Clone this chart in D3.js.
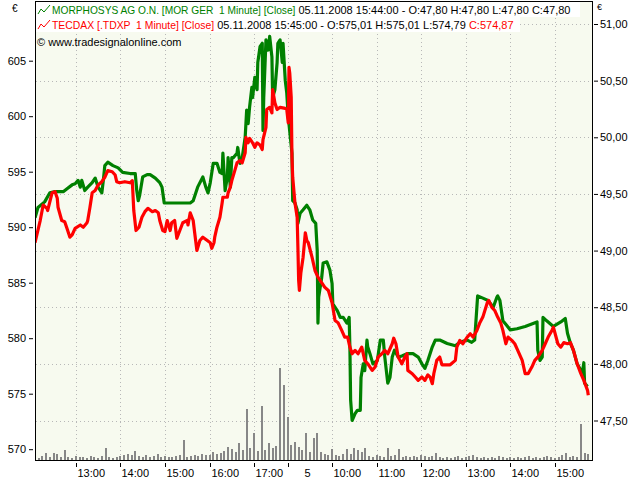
<!DOCTYPE html>
<html><head><meta charset="utf-8">
<script src="https://cdn.jsdelivr.net/npm/d3@7/dist/d3.min.js"></script>
<style>body{margin:0;background:#fff;} svg{display:block;} text{font-family:"Liberation Sans",Arial,sans-serif;white-space:pre;}</style>
</head><body><svg id="c" width="640" height="480"></svg>
<script>
// ---- DATA ----
const redT = ["4 12:05","4 12:12","4 12:16","4 12:21","4 12:22","4 12:28","4 12:32","4 12:35","4 12:36","4 12:41","4 12:45","4 12:48","4 12:52","4 12:55","4 12:59","4 13:06","4 13:10","4 13:15","4 13:16","4 13:19","4 13:22","4 13:26","4 13:30","4 13:35","4 13:39","4 13:43","4 13:49","4 13:53","4 13:55","4 13:59","4 14:06","4 14:13","4 14:16","4 14:18","4 14:21","4 14:25","4 14:29","4 14:33","4 14:37","4 14:43","4 14:47","4 14:51","4 14:53","4 14:57","4 15:00","4 15:03","4 15:07","4 15:09","4 15:13","4 15:16","4 15:20","4 15:24","4 15:30","4 15:31","4 15:34","4 15:38","4 15:40","4 15:43","4 15:47","4 15:51","4 15:57","4 16:01","4 16:03","4 16:06","4 16:07","4 16:10","4 16:14","4 16:17","4 16:18","4 16:24","4 16:25","4 16:28","4 16:30","4 16:34","4 16:37","4 16:41","4 16:44","4 16:48","4 16:49","4 16:52","4 16:54","4 16:58","4 17:01","4 17:04","4 17:08","4 17:11","4 17:12","4 17:16","4 17:17","4 17:21","4 17:24","4 17:25","4 17:28","4 17:31","4 17:35","4 17:42","4 17:44",
"5 09:01","5 09:02","5 09:03","5 09:05","5 09:06","5 09:07","5 09:10","5 09:13","5 09:14","5 09:15","5 09:16","5 09:18","5 09:21","5 09:24","5 09:26","5 09:28","5 09:33","5 09:37","5 09:41","5 09:46","5 09:50","5 09:55","5 10:00","5 10:04","5 10:08","5 10:13","5 10:17","5 10:21","5 10:24","5 10:27","5 10:31","5 10:35","5 10:40","5 10:44","5 10:48","5 10:54","5 10:58","5 11:02","5 11:07","5 11:11","5 11:15","5 11:21","5 11:23","5 11:26","5 11:29","5 11:34","5 11:38","5 11:41","5 11:42","5 11:48","5 11:52","5 11:56","5 12:01","5 12:05","5 12:09","5 12:12","5 12:15","5 12:17","5 12:21","5 12:25","5 12:28","5 12:32","5 12:39","5 12:46","5 12:48","5 12:52","5 12:56","5 13:02","5 13:06","5 13:10","5 13:15","5 13:19","5 13:23","5 13:29","5 13:31","5 13:35","5 13:39","5 13:43","5 13:47","5 13:50","5 13:54","5 13:57","5 14:02","5 14:06","5 14:10","5 14:16","5 14:20","5 14:24","5 14:29","5 14:33","5 14:37","5 14:43","5 14:47","5 14:51","5 14:56","5 14:58","5 15:04","5 15:08","5 15:12","5 15:17","5 15:21","5 15:25","5 15:30","5 15:35","5 15:39","5 15:44","5 15:45"];
const redV = [588.6,590.6,592.0,591.7,591.5,593.1,593.2,592.6,591.8,590.6,590.5,589.9,589.1,589.3,589.9,590.2,590.0,590.4,590.6,591.8,593.1,593.3,593.8,594.1,594.5,595.1,595.0,594.7,594.1,594.0,594.1,594.0,594.2,591.5,589.7,590.0,590.9,591.4,591.7,591.4,591.5,591.3,590.6,589.7,589.6,590.6,589.7,590.4,590.6,589.0,589.7,590.4,590.6,590.2,591.3,590.6,589.5,587.9,588.8,589.1,588.8,588.6,588.1,588.6,589.1,590.0,590.9,592.2,592.7,592.7,593.1,593.6,594.2,595.1,595.8,596.0,595.8,596.7,598.1,597.6,598.0,597.6,597.2,597.6,597.4,597.0,597.9,599.0,600.6,600.8,600.3,602.4,601.2,600.6,600.8,600.7,600.6,
599.4,604.4,603.9,601.7,596.3,594.5,592.2,590.9,588.2,585.2,584.3,585.9,587.3,589.5,588.8,588.6,587.3,586.1,585.5,585.0,584.6,584.3,583.2,581.6,581.4,580.7,580.1,580.1,579.2,578.6,578.9,578.6,579.2,578.0,577.7,577.1,577.4,578.3,578.6,578.9,578.6,579.5,580.0,579.5,578.3,577.7,578.3,578.6,577.1,576.8,576.5,576.2,576.5,576.2,576.7,576.5,575.9,576.8,578.0,578.3,577.6,577.6,577.6,578.0,579.2,579.8,579.5,580.1,580.4,580.1,580.7,581.4,581.9,583.2,583.4,582.8,582.5,581.9,581.4,580.7,579.5,580.1,579.8,579.5,578.9,578.0,576.8,576.8,577.4,578.0,578.3,578.9,579.5,580.1,580.7,581.0,579.5,579.2,579.6,579.5,579.6,578.9,577.7,576.8,576.2,575.3,574.87];

const greenT = ["4 12:05","4 12:09","4 12:18","4 12:25","4 12:32","4 12:43","4 12:49","4 12:55","4 12:59","4 13:03","4 13:06","4 13:08","4 13:12","4 13:16","4 13:22","4 13:26","4 13:30","4 13:35","4 13:37","4 13:39","4 13:43","4 13:50","4 13:57","4 14:03","4 14:13","4 14:20","4 14:22","4 14:24","4 14:26","4 14:30","4 14:36","4 14:40","4 14:47","4 14:53","4 14:56","4 14:59","4 15:03","4 15:34","4 15:38","4 15:44","4 15:51","4 15:55","4 15:58","4 16:01","4 16:05","4 16:10","4 16:14","4 16:17","4 16:18","4 16:21","4 16:24","4 16:25","4 16:28","4 16:30","4 16:32","4 16:37","4 16:38","4 16:41","4 16:44","4 16:48","4 16:50","4 16:52","4 16:54","4 16:57","4 16:58","4 17:01","4 17:04","4 17:05","4 17:08","4 17:11","4 17:12","4 17:13","4 17:16","4 17:19","4 17:21","4 17:24","4 17:25","4 17:28","4 17:31","4 17:32","4 17:35","4 17:38","4 17:39","4 17:42","4 17:44",
"5 09:01","5 09:06","5 09:07","5 09:10","5 09:13","5 09:14","5 09:17","5 09:21","5 09:26","5 09:30","5 09:34","5 09:38","5 09:40","5 09:41","5 09:42","5 09:46","5 09:48","5 09:53","5 09:57","5 10:00","5 10:01","5 10:07","5 10:11","5 10:15","5 10:20","5 10:23","5 10:24","5 10:25","5 10:27","5 10:31","5 10:34","5 10:38","5 10:39","5 10:42","5 10:44","5 10:47","5 10:48","5 10:51","5 10:55","5 11:01","5 11:05","5 11:09","5 11:11","5 11:15","5 11:18","5 11:21","5 11:24","5 11:29","5 11:34","5 11:41","5 11:49","5 11:56","5 12:01","5 12:05","5 12:09","5 12:15","5 12:19","5 12:25","5 12:35","5 12:46","5 12:52","5 13:02","5 13:08","5 13:12","5 13:15","5 13:16","5 13:23","5 13:30","5 13:37","5 13:42","5 13:43","5 13:46","5 13:50","5 13:55","5 14:00","5 14:09","5 14:20","5 14:36","5 14:37","5 14:40","5 14:43","5 14:44","5 14:49","5 14:58","5 15:08","5 15:14","5 15:17","5 15:21","5 15:25","5 15:30","5 15:37","5 15:39","5 15:40","5 15:44"];
const greenV = [49.29,49.38,49.43,49.51,49.52,49.52,49.55,49.58,49.59,49.62,49.56,49.62,49.53,49.56,49.60,49.64,49.56,49.51,49.62,49.75,49.78,49.75,49.73,49.69,49.68,49.68,49.53,49.44,49.49,49.65,49.67,49.67,49.64,49.60,49.56,49.42,49.42,49.42,49.44,49.56,49.65,49.56,49.51,49.60,49.77,49.77,49.69,49.68,49.86,49.53,49.65,49.82,49.56,49.82,49.82,49.86,49.91,49.77,49.82,50.00,50.24,50.12,50.27,50.44,50.35,50.53,50.42,50.66,50.80,50.83,50.06,50.35,50.86,50.77,50.89,50.71,50.35,50.42,50.66,50.83,50.86,50.66,50.83,50.50,50.39,
50.18,49.86,49.44,49.42,49.36,49.24,49.33,49.36,49.40,49.36,49.27,49.24,49.00,48.36,48.59,48.76,48.89,48.90,48.83,48.71,48.53,48.47,48.41,48.41,48.36,48.41,48.15,47.68,47.50,47.56,47.59,47.59,47.88,48.00,47.94,48.21,48.15,48.09,48.00,48.03,48.21,48.21,48.06,47.83,47.88,48.06,48.12,48.06,48.07,48.09,48.09,48.06,48.00,47.96,48.03,48.15,48.21,48.21,48.18,48.16,48.19,48.21,48.19,48.21,48.50,48.60,48.58,48.56,48.50,48.59,48.60,48.56,48.38,48.34,48.30,48.31,48.33,48.37,48.12,48.03,48.06,48.41,48.38,48.33,48.37,48.40,48.27,48.18,48.12,48.00,47.92,48.01,47.83,47.80];

// volume in 5-minute buckets
const volDay1Start = "4 12:05";
const volDay1 = [3,2,4,7,3,7,6,3,10,3,2,4,3,3,2,4,3,2,4,12,3,2,3,4,5,6,5,9,4,3,5,3,4,6,3,4,3,3,4,5,20,3,4,5,4,6,5,5,8,6,7,9,13,11,8,17,10,51,12,27,9,54,10,17,12,14,92,75];
const volDay2Start = "5 09:00";
const volDay2 = [43,15,18,13,10,27,8,22,27,8,6,5,11,5,4,6,11,6,12,10,8,12,4,3,5,4,3,12,4,5,11,3,4,3,4,3,5,4,3,4,7,3,2,3,2,3,4,2,3,4,5,3,2,3,2,3,2,4,3,2,3,2,3,2,3,4,2,3,2,3,4,3,2,3,5,7,3,4,3,36,7,6];

const xTickTimes = ["4 13:00","4 14:00","4 15:00","4 16:00","4 17:00","5 09:00","5 10:00","5 11:00","5 12:00","5 13:00","5 14:00","5 15:00"];
const xTickLabels = ["13:00","14:00","15:00","16:00","17:00","5","10:00","11:00","12:00","13:00","14:00","15:00"];
const leftTicks = [570,575,580,585,590,595,600,605];
const rightTicks = [47.5,48,48.5,49,49.5,50,50.5,51];

// ---- CHART ----
const svg = d3.select("#c");
const L = 35, R = 592, T = 1, B = 460;
function idx(s){ const d = s.split(" ")[0], hm = s.split(" ")[1].split(":"); const mm = (+hm[0])*60 + (+hm[1]); return d === "4" ? mm - 725 : 340 + mm - 540; }
const x = d3.scaleLinear().domain([0, 750]).range([L, R]);
const yL = d3.scaleLinear().domain([570, 605]).range([449.2, 60.7]);
const yR = d3.scaleLinear().domain([47.5, 51]).range([420.5, 24]);
const yV = d3.scaleLinear().domain([0, 100]).range([B, B - 100]);

svg.append("rect").attr("x", L).attr("y", T).attr("width", R - L).attr("height", B - T).attr("fill", "#f7faef");

svg.append("defs").append("clipPath").attr("id", "clp").append("rect").attr("x", L + 1).attr("y", T + 1).attr("width", R - L - 1).attr("height", B - T - 1);

// grid
const grid = svg.append("g").attr("stroke", "#b8b8b8").attr("stroke-dasharray", "1,3").attr("stroke-width", 1);
grid.selectAll("line.v").data(xTickTimes).enter().append("line")
  .attr("x1", d => Math.round(x(idx(d))) + 0.5).attr("x2", d => Math.round(x(idx(d))) + 0.5)
  .attr("y1", T + 1).attr("y2", B);
grid.selectAll("line.h").data(rightTicks).enter().append("line")
  .attr("x1", L + 1).attr("x2", R).attr("y1", d => Math.round(yR(d)) + 0.5).attr("y2", d => Math.round(yR(d)) + 0.5);

const plot = svg.append("g").attr("clip-path", "url(#clp)");

// volume
const vol = [];
volDay1.forEach((v, i) => vol.push({i: idx(volDay1Start) + i * 5, v}));
volDay2.forEach((v, i) => vol.push({i: idx(volDay2Start) + i * 5, v}));
plot.append("g").selectAll("rect").data(vol).enter().append("rect")
  .attr("x", d => Math.round(x(d.i)) - 1).attr("width", 2)
  .attr("y", d => yV(d.v)).attr("height", d => B - yV(d.v))
  .attr("fill", "#878787");

// lines
const gData = greenT.map((t, i) => ({i: idx(t), v: greenV[i]}));
const rData = redT.map((t, i) => ({i: idx(t), v: redV[i]}));
plot.append("path").datum(gData).attr("fill", "none").attr("stroke", "#008000").attr("stroke-width", 3.2).attr("stroke-linejoin", "round")
  .attr("d", d3.line().x(d => x(d.i)).y(d => yR(d.v)));
plot.append("path").datum(rData).attr("fill", "none").attr("stroke", "#ff0000").attr("stroke-width", 3.2).attr("stroke-linejoin", "round")
  .attr("d", d3.line().x(d => x(d.i)).y(d => yL(d.v)));

// frame
svg.append("rect").attr("x", L + 0.5).attr("y", T + 0.5).attr("width", R - L).attr("height", B - T).attr("fill", "none").attr("stroke", "#000");

// axes
const fmtR = d => d3.format(".2f")(d).replace(".", ",");
const aL = svg.append("g").attr("transform", `translate(33,0)`).call(d3.axisLeft(yL).tickValues(leftTicks).tickSize(4).tickPadding(3));
const aR = svg.append("g").attr("transform", `translate(594,0)`).call(d3.axisRight(yR).tickValues(rightTicks).tickSize(4).tickPadding(2).tickFormat(fmtR));
[aL, aR].forEach(a => { a.select(".domain").remove(); a.selectAll("text").attr("font-size", 11).attr("fill", "#000").attr("font-family", "Liberation Sans, Arial, sans-serif"); a.selectAll("line").attr("stroke", "#000"); });

const aB = svg.append("g");
xTickTimes.forEach((t, k) => {
  const px = Math.round(x(idx(t))) + 0.5;
  aB.append("line").attr("x1", px).attr("x2", px).attr("y1", 463).attr("y2", 467).attr("stroke", "#000");
  aB.append("text").attr("x", px + (xTickLabels[k] === "5" ? 16 : 1)).attr("y", 477).attr("font-size", 11).attr("fill", "#000").text(xTickLabels[k]);
});

svg.append("text").attr("x", 12).attr("y", 12).attr("font-size", 10).text("€");
svg.append("text").attr("x", 597).attr("y", 10).attr("font-size", 9).text("€");

// legend
svg.append("rect").attr("x", L + 1).attr("y", 2).attr("width", 544).attr("height", 15).attr("fill", "#fff");
svg.append("rect").attr("x", L + 1).attr("y", 17).attr("width", 484).attr("height", 15).attr("fill", "#fff");
function icon(y0, col){ svg.append("polyline").attr("points", `38,${y0+9} 41,${y0+4} 44,${y0+7} 50,${y0}`).attr("fill", "none").attr("stroke", col).attr("stroke-width", 1); }
icon(5, "#008000"); icon(20, "#ff0000");
function row(y, parts){
  const t = svg.append("text").attr("x", 52).attr("y", y);
  parts.forEach(p => t.append("tspan").attr("font-size", p[2]).attr("fill", p[1]).text(p[0]));
}
row(14, [["MORPHOSYS AG O.N. [MOR GER  1 Minute] [Close]", "#008000", 10.2], [" 05.11.2008 15:44:00 - O:47,80 H:47,80 L:47,80 C:47,80", "#000", 11]]);
row(29, [["TECDAX [.TDXP  1 Minute] [Close]", "#ff0000", 10.4], [" 05.11.2008 15:45:00 - O:575,01 H:575,01 L:574,79", "#000", 11], [" C:574,87", "#ff0000", 11]]);
svg.append("text").attr("x", 37).attr("y", 46).attr("font-size", 11).text("© www.tradesignalonline.com");
</script></body></html>
